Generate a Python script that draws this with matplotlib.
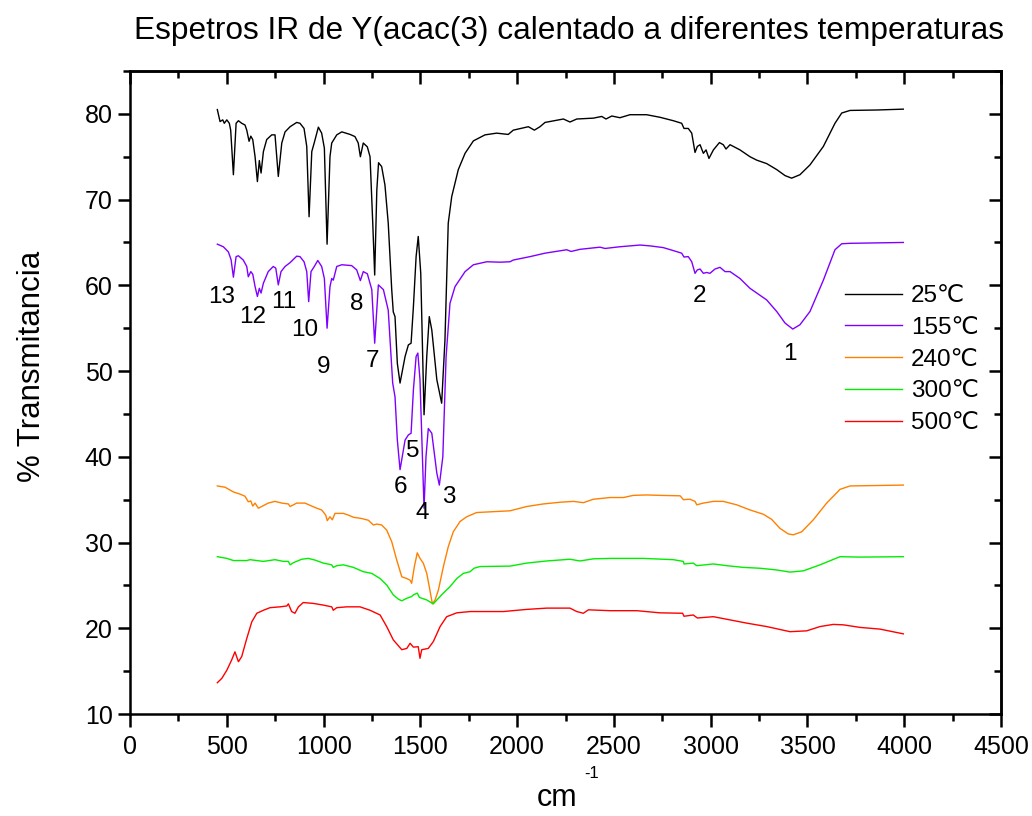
import matplotlib
matplotlib.use('Agg')
import matplotlib.pyplot as plt
from matplotlib.ticker import MultipleLocator

plt.rcParams['font.family'] = ['Liberation Sans', 'DejaVu Sans']

# ---------------- data (wavenumber cm-1, % transmittance) ----------------
wn_25 = [451, 465, 479, 487, 500, 513, 520, 534, 548, 560,
         577, 594, 603, 615, 624, 634, 646, 658, 668, 677,
         689, 706, 732, 749, 766, 784, 801, 827, 861, 878,
         899, 913, 925, 939, 952, 973, 990, 1004, 1018, 1033,
         1042, 1068, 1094, 1137, 1162, 1179, 1190, 1205, 1226, 1240,
         1254, 1264, 1275, 1284, 1300, 1317, 1334, 1352, 1360, 1369,
         1381, 1395, 1421, 1438, 1452, 1464, 1478, 1489, 1502, 1519,
         1533, 1546, 1559, 1585, 1610, 1627, 1644, 1662, 1696, 1731,
         1774, 1834, 1894, 1954, 1980, 2058, 2089, 2118, 2144, 2239,
         2273, 2308, 2394, 2437, 2459, 2489, 2531, 2583, 2669, 2738,
         2807, 2850, 2862, 2884, 2902, 2919, 2931, 2945, 2962, 2976,
         2991, 3014, 3045, 3065, 3079, 3100, 3151, 3203, 3238, 3289,
         3341, 3384, 3418, 3461, 3513, 3582, 3642, 3677, 3720, 3858,
         3995]
t_25 = [80.5, 79.1, 79.3, 78.9, 79.3, 78.9, 78.1, 72.9, 78.9, 79.2,
        78.9, 78.7, 78.1, 76.8, 77.4, 77.0, 75.0, 72.1, 74.55, 73.1,
        75.6, 77.0, 77.55, 77.55, 72.7, 76.6, 77.9, 78.5, 79.0, 78.9,
        78.3, 76.2, 68.0, 75.6, 76.65, 78.45, 77.75, 76.0, 64.8, 75.0,
        76.6, 77.55, 77.9, 77.6, 77.35, 76.6, 75.0, 76.6, 76.15, 75.0,
        67.25, 61.2, 71.1, 74.3, 73.85, 71.7, 67.25, 59.5, 56.9, 56.35,
        50.9, 48.6, 51.7, 53.05, 53.25, 57.5, 63.35, 65.7, 61.4, 44.9,
        51.7, 56.35, 54.8, 49.0, 46.25, 53.6, 67.25, 70.35, 73.5, 75.4,
        76.85, 77.55, 77.75, 77.6, 78.1, 78.5, 78.1, 78.5, 79.0, 79.4,
        79.05, 79.4, 79.5, 79.7, 79.4, 79.75, 79.55, 79.9, 79.9, 79.6,
        79.2, 78.9, 78.3, 78.3, 77.75, 75.5, 76.2, 76.4, 75.4, 75.8,
        74.8, 75.8, 76.65, 76.4, 75.9, 76.4, 75.8, 75.0, 74.6, 74.2,
        73.5, 72.8, 72.5, 72.9, 74.05, 76.2, 78.9, 80.1, 80.4, 80.45,
        80.55]

wn_155 = [451, 482, 508, 522, 534, 548, 560, 585, 603, 611,
          624, 634, 646, 658, 668, 677, 689, 714, 740, 753,
          766, 780, 801, 827, 861, 878, 899, 913, 923, 935,
          952, 970, 990, 1004, 1018, 1033, 1042, 1050, 1068, 1094,
          1145, 1171, 1190, 1205, 1226, 1249, 1264, 1283, 1309, 1334,
          1357, 1369, 1381, 1395, 1421, 1438, 1452, 1464, 1478, 1487,
          1498, 1519, 1529, 1541, 1559, 1585, 1598, 1616, 1633, 1653,
          1679, 1731, 1774, 1843, 1912, 1963, 1980, 2067, 2144, 2256,
          2279, 2325, 2428, 2454, 2531, 2635, 2687, 2755, 2807, 2850,
          2862, 2884, 2902, 2919, 2931, 2945, 2962, 2979, 2996, 3022,
          3048, 3074, 3100, 3151, 3203, 3238, 3289, 3341, 3384, 3424,
          3461, 3513, 3582, 3642, 3677, 3720, 3995]
t_155 = [64.8, 64.5, 63.9, 63.0, 60.95, 63.35, 63.45, 62.95, 62.2, 61.0,
         61.6, 61.3, 59.85, 58.7, 59.65, 59.1, 60.25, 61.6, 62.2, 62.0,
         60.05, 61.6, 62.2, 62.65, 63.4, 63.35, 62.75, 61.6, 58.1, 61.6,
         62.2, 62.9, 62.2, 60.8, 55.0, 59.85, 60.8, 60.6, 62.2, 62.4,
         62.3, 61.8, 60.55, 61.6, 61.35, 59.5, 53.25, 60.05, 59.5, 57.1,
         48.6, 47.0, 41.95, 38.5, 41.95, 42.55, 42.75, 47.8, 51.7, 52.1,
         49.0, 34.0, 40.0, 43.3, 42.75, 38.1, 36.7, 40.0, 51.7, 57.9,
         59.85, 61.6, 62.4, 62.75, 62.7, 62.75, 62.95, 63.35, 63.75, 64.15,
         63.95, 64.2, 64.45, 64.3, 64.5, 64.7, 64.6, 64.4, 64.05, 63.75,
         63.3, 63.35, 62.75, 61.4, 61.8, 61.9, 61.4, 61.5, 61.4, 61.9,
         62.1, 61.6, 61.6, 60.8, 59.65, 59.1, 58.3, 56.95, 55.6, 54.9,
         55.4, 56.95, 60.6, 64.15, 64.85, 64.9, 65.0]

wn_240 = [451, 491, 534, 568, 594, 611, 624, 634, 646, 663,
          680, 714, 749, 784, 818, 827, 861, 904, 939, 965,
          990, 1011, 1019, 1033, 1045, 1059, 1102, 1128, 1154, 1197,
          1231, 1257, 1275, 1300, 1326, 1352, 1378, 1404, 1430, 1447,
          1455, 1469, 1484, 1498, 1515, 1533, 1546, 1562, 1576, 1593,
          1619, 1644, 1670, 1705, 1739, 1791, 1877, 1963, 2049, 2135,
          2222, 2290, 2342, 2394, 2480, 2549, 2600, 2669, 2738, 2842,
          2859, 2893, 2919, 2928, 2962, 3014, 3065, 3134, 3203, 3272,
          3315, 3358, 3401, 3427, 3470, 3530, 3599, 3668, 3720, 3858,
          3995]
t_240 = [36.6, 36.45, 35.9, 35.65, 35.4, 34.75, 34.85, 34.25, 34.6, 34.0,
         34.2, 34.6, 34.8, 34.6, 34.5, 34.2, 34.6, 34.6, 34.25, 34.0,
         33.8, 33.2, 32.55, 33.0, 32.65, 33.4, 33.4, 33.2, 32.95, 32.8,
         32.6, 32.05, 32.15, 32.05, 31.45, 30.1, 27.95, 26.0, 25.8, 25.6,
         25.25, 27.2, 28.8, 28.15, 27.6, 26.4, 24.85, 22.85, 23.3, 24.45,
         27.2, 29.5, 31.25, 32.45, 33.0, 33.5, 33.6, 33.7, 34.2, 34.5,
         34.7, 34.8, 34.65, 35.05, 35.25, 35.25, 35.5, 35.55, 35.5, 35.45,
         35.0, 35.05, 34.8, 34.4, 34.6, 34.8, 34.8, 34.4, 33.8, 33.3,
         32.7, 31.65, 31.0, 30.9, 31.25, 32.65, 34.6, 36.2, 36.6, 36.65,
         36.7]

wn_300 = [451, 500, 534, 603, 620, 689, 749, 792, 818, 827,
          844, 887, 921, 956, 999, 1042, 1050, 1068, 1102, 1154,
          1205, 1249, 1292, 1326, 1360, 1386, 1404, 1430, 1455, 1464,
          1484, 1495, 1533, 1567, 1610, 1653, 1688, 1722, 1757, 1777,
          1808, 1963, 2049, 2153, 2273, 2325, 2394, 2480, 2652, 2807,
          2859, 2862, 2910, 2928, 3014, 3083, 3169, 3255, 3341, 3410,
          3479, 3565, 3668, 3772, 3995]
t_300 = [28.35, 28.15, 27.9, 27.9, 28.0, 27.8, 28.0, 27.8, 27.8, 27.4,
         27.65, 28.05, 28.15, 27.95, 27.6, 27.4, 27.1, 27.3, 27.4, 27.1,
         26.6, 26.4, 25.8, 25.05, 23.9, 23.4, 23.2, 23.5, 23.7, 23.9,
         24.1, 23.6, 23.3, 22.85, 23.9, 24.85, 25.8, 26.4, 26.6, 27.0,
         27.2, 27.25, 27.6, 27.85, 28.05, 27.85, 28.1, 28.15, 28.15, 28.0,
         27.8, 27.5, 27.6, 27.3, 27.5, 27.3, 27.1, 27.0, 26.8, 26.55,
         26.7, 27.4, 28.35, 28.3, 28.35]

wn_500 = [451, 474, 500, 525, 542, 560, 577, 603, 629, 655,
          689, 723, 775, 810, 818, 835, 852, 870, 895, 947,
          999, 1042, 1050, 1068, 1120, 1188, 1240, 1292, 1326, 1360,
          1404, 1430, 1447, 1464, 1489, 1498, 1507, 1541, 1567, 1602,
          1636, 1688, 1757, 1929, 2049, 2153, 2273, 2308, 2342, 2368,
          2480, 2618, 2738, 2855, 2862, 2910, 2931, 3014, 3083, 3186,
          3289, 3410, 3496, 3565, 3633, 3685, 3772, 3875, 3995]
t_500 = [13.65, 14.15, 15.1, 16.3, 17.25, 16.1, 16.7, 18.8, 20.75, 21.75,
         22.1, 22.4, 22.5, 22.6, 22.85, 21.95, 21.75, 22.5, 23.0, 22.9,
         22.7, 22.5, 22.1, 22.4, 22.5, 22.5, 22.1, 21.55, 20.2, 18.65,
         17.5, 17.65, 18.25, 17.8, 17.85, 16.5, 17.5, 17.65, 18.45, 20.2,
         21.35, 21.8, 21.95, 21.95, 22.2, 22.35, 22.35, 21.95, 21.75, 22.15,
         22.05, 22.05, 21.8, 21.75, 21.4, 21.55, 21.2, 21.35, 21.05, 20.6,
         20.2, 19.6, 19.7, 20.2, 20.45, 20.4, 20.1, 19.9, 19.35]

series_labels = ['25\u2103', '155\u2103', '240\u2103', '300\u2103', '500\u2103']
series_colors = ['#000000', '#8000FF', '#FF8000', '#00EE00', '#FF0000']

peak_labels = ['1', '2', '3', '4', '5', '6', '7', '8', '9', '10', '11', '12', '13']
peak_x = [3409, 2944, 1648, 1508, 1462, 1395, 1255, 1172, 1002, 904, 795, 635, 475]
peak_y = [52.0, 58.8, 35.3, 33.4, 40.7, 36.5, 51.2, 57.8, 50.5, 54.8, 58.1, 56.3, 58.65]

# ---------------- figure ----------------
fig = plt.figure(figsize=(10.32, 8.16), dpi=100)
ax = fig.add_axes([0.126, 0.125, 0.844, 0.788])

xs = [wn_25, wn_155, wn_240, wn_300, wn_500]
ys = [t_25, t_155, t_240, t_300, t_500]
for x, y, lab, col in zip(xs, ys, series_labels, series_colors):
    ax.plot(x, y, color=col, lw=1.0, label=lab)

for lab, px, py in zip(peak_labels, peak_x, peak_y):
    ax.text(px, py, lab, ha='center', va='center', fontsize=17.5)

ax.set_xlim(0, 4500)
ax.set_ylim(10, 85)
ax.xaxis.set_major_locator(MultipleLocator(500))
ax.xaxis.set_minor_locator(MultipleLocator(250))
ax.yaxis.set_major_locator(MultipleLocator(10))
ax.yaxis.set_minor_locator(MultipleLocator(5))
ax.tick_params(which='both', direction='out', width=1.8, labelsize=18,
               top=False, right=False)
ax.tick_params(which='major', length=9)
ax.tick_params(which='minor', length=5)
ax.tick_params(axis='x', which='major', pad=6)
for sp in ax.spines.values():
    sp.set_linewidth(1.8)

secx = ax.secondary_xaxis('top')
secx.xaxis.set_major_locator(MultipleLocator(500))
secx.xaxis.set_minor_locator(MultipleLocator(250))
secx.tick_params(which='both', direction='in', width=1.8, labeltop=False)
secx.tick_params(which='major', length=9)
secx.tick_params(which='minor', length=5)
secx.spines['top'].set_linewidth(1.8)

secy = ax.secondary_yaxis('right')
secy.yaxis.set_major_locator(MultipleLocator(10))
secy.yaxis.set_minor_locator(MultipleLocator(5))
secy.tick_params(which='both', direction='in', width=1.8, labelright=False)
secy.tick_params(which='major', length=9)
secy.tick_params(which='minor', length=5)
secy.spines['right'].set_linewidth(1.8)

ax.set_ylabel('% Transmitancia', fontsize=22.5)
ax.yaxis.set_label_coords(-0.095, 0.54)
ax.set_xlabel('cm', fontsize=22)
ax.xaxis.set_label_coords(0.49, -0.108)
ax.text(0.53, -0.092, '-1', transform=ax.transAxes, ha='center', va='center',
        fontsize=12)

fig.text(0.551, 0.962, 'Espetros IR de Y(acac(3) calentado a diferentes temperaturas',
         ha='center', va='center', fontsize=22.8)

ax.legend(loc='upper left', bbox_to_anchor=(0.821, 0.667), frameon=False,
          fontsize=17.5, handlelength=2.35, handletextpad=0.35, labelspacing=0.4,
          borderpad=0, borderaxespad=0)

fig.savefig('out.png', dpi=100)
